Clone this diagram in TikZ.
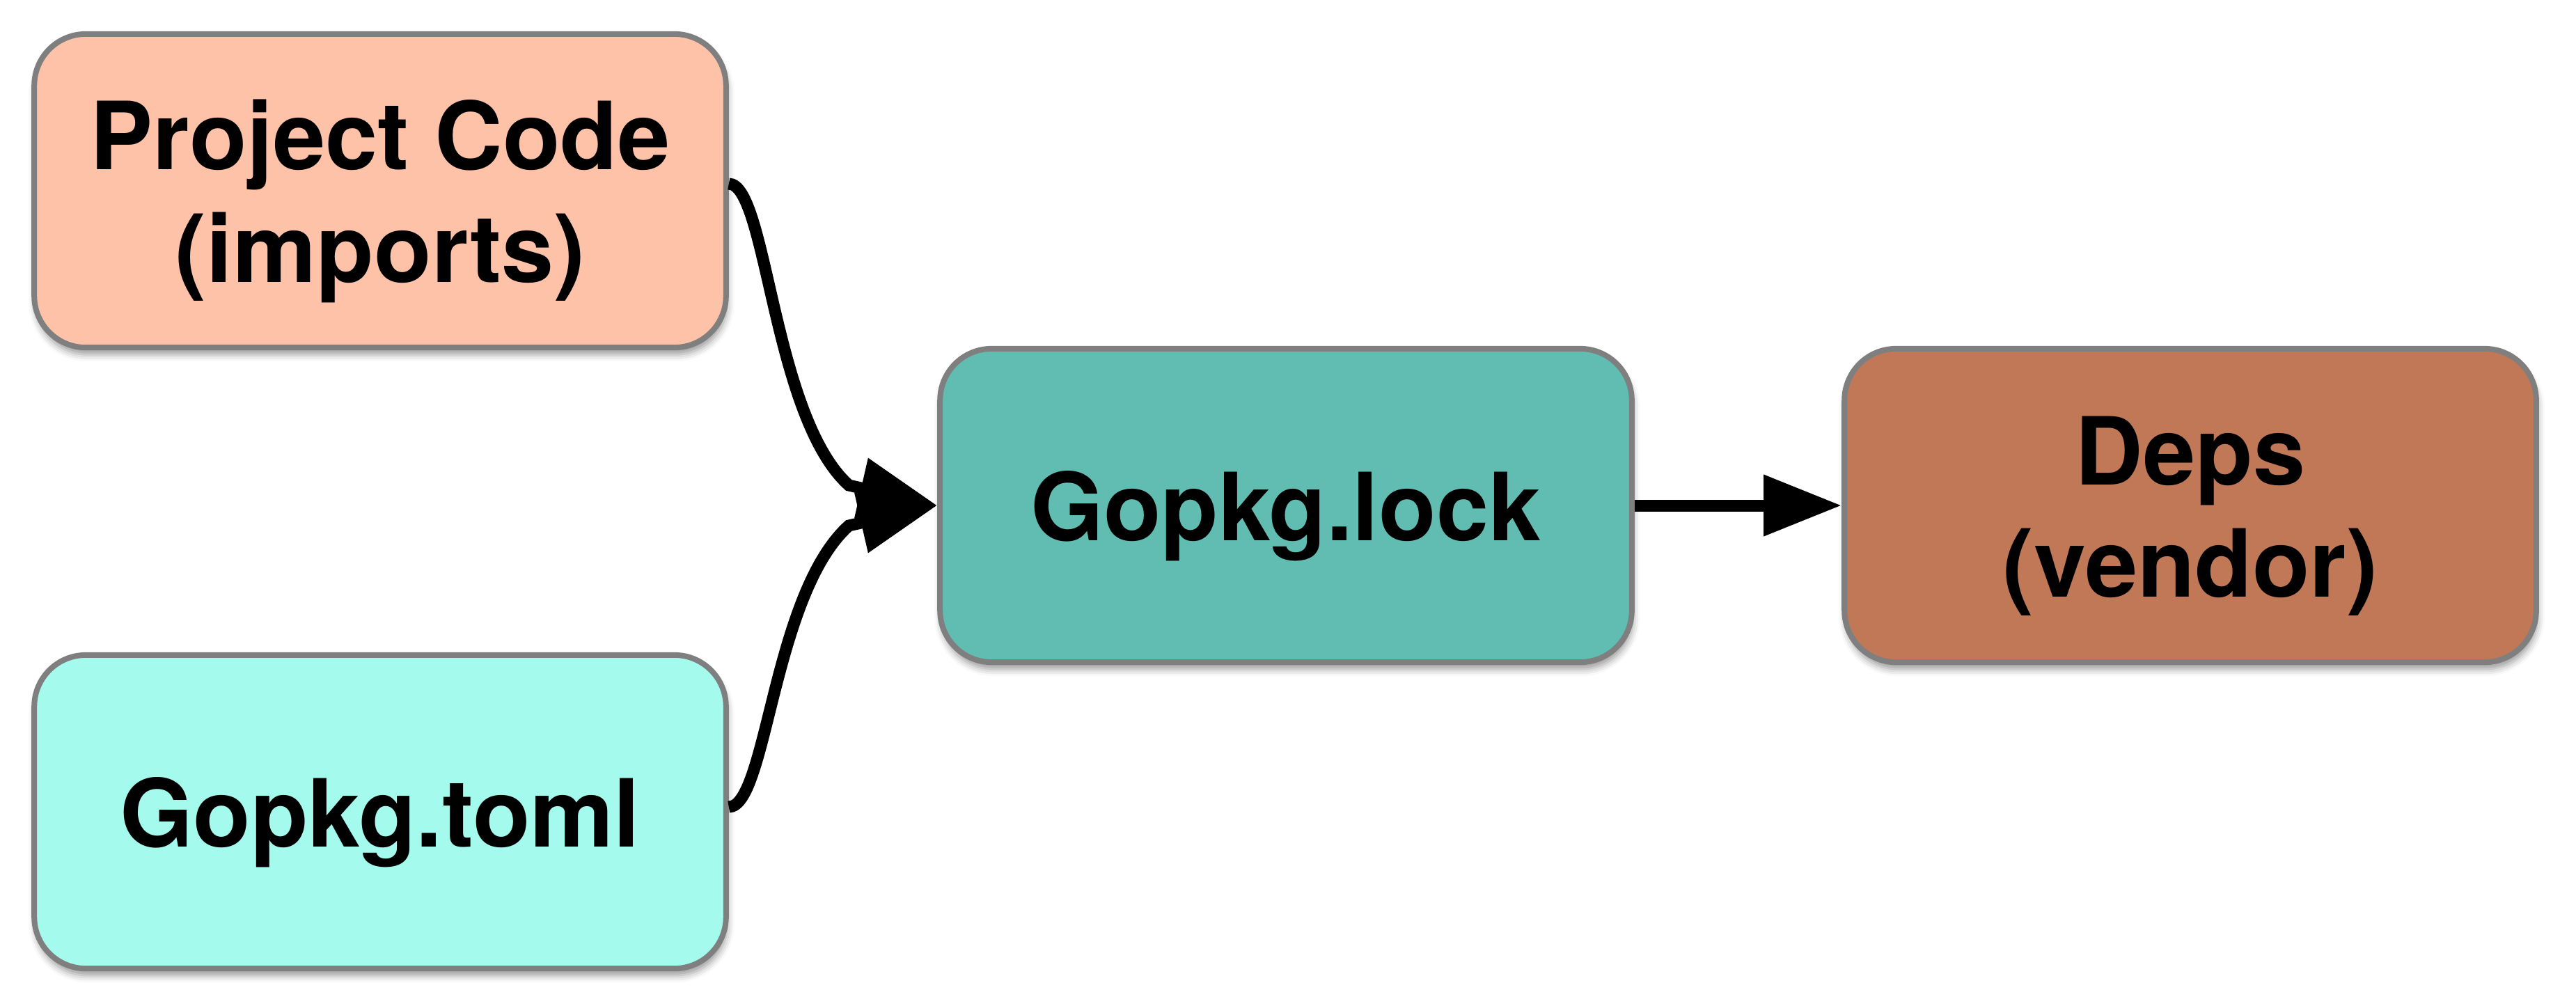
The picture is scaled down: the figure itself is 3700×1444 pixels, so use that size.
\documentclass[tikz,border=0pt]{standalone}
\usepackage{fontspec}
\setmainfont{TeX Gyre Heros}
\usetikzlibrary{arrows.meta,shadows.blur,calc}
\definecolor{peachc}{HTML}{FEC2A9}
\definecolor{tomlc}{HTML}{A5FAEE}
\definecolor{lockc}{HTML}{61BDB2}
\definecolor{depsc}{HTML}{C07857}
\definecolor{bordergray}{HTML}{7F7F7F}
\begin{document}
\begin{tikzpicture}[x=0.01cm,y=-0.01cm,
  box/.style={draw=bordergray, line width=0.08cm, rounded corners=0.74cm,
    minimum width=9.93cm, minimum height=4.50cm,
    blur shadow={shadow xshift=0.02cm, shadow yshift=-0.1cm, shadow blur radius=0.1cm, shadow opacity=40}},
  lbl/.style={align=center, inner sep=0pt, font=\fontsize{38.4}{45.9}\selectfont\bfseries},
  conn/.style={line width=0.17cm, -{Triangle[length=1.12cm,width=0.84cm]}}]
\useasboundingbox (0,0) rectangle (3700,1444);
\node[box, fill=peachc] (pc) at (546,274) {};
\node[box, fill=tomlc] (toml) at (546,1166) {};
\node[box, fill=lockc] (lock) at (1847,726) {};
\node[box, fill=depsc] (deps) at (3146,726) {};
\node[lbl] (pctext) at ([yshift=-0.15cm]pc.center) {Project Code\\(imports)};
\node[lbl] (tomltext) at ([yshift=-0.15cm]toml.center) {Gopkg.toml};
\node[lbl] (locktext) at ([yshift=-0.15cm]lock.center) {Gopkg.lock};
\node[lbl] (depstext) at ([yshift=-0.15cm]deps.center) {Deps\\(vendor)};
\coordinate (b1) at ($(lock.west)+(-127,-29)$);
\coordinate (b2) at ($(lock.west)+(-127,29)$);
\draw[conn] ([yshift=0.1cm]pc.east) .. controls +(55,0) and +(-110,-99) .. (b1) -- (lock.west);
\draw[conn] ([yshift=0.07cm]toml.east) .. controls +(55,0) and +(-110,99) .. (b2) -- (lock.west);
\draw[conn] (lock.east) -- (deps.west);
\end{tikzpicture}
\end{document}
